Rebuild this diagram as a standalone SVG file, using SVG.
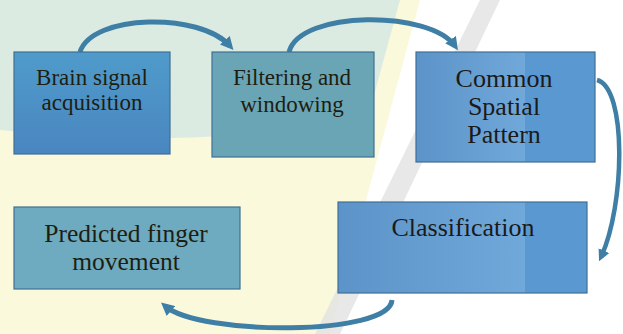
<svg xmlns="http://www.w3.org/2000/svg" width="623" height="334" viewBox="0 0 623 334">
<style>
.box{stroke:#3f6f94;stroke-width:1.2}
.t{font-family:'Liberation Serif',serif;font-size:23px;fill:#1e1e10;text-anchor:middle}
.b{font-size:26px;fill:#1a1a1a}
.c{fill:none;stroke:#3f7fa6;stroke-width:5;stroke-linecap:butt}
</style>
<defs>
<marker id="ah" viewBox="0 0 10 10" refX="6" refY="5" markerWidth="2.6" markerHeight="2.6" orient="auto" markerUnits="strokeWidth">
<path d="M0,0 L10,5 L0,10 z" fill="#3f7fa6"/>
</marker>
<linearGradient id="g1" x1="0" y1="0" x2="0" y2="1"><stop offset="0" stop-color="#4f9bcb"/><stop offset="1" stop-color="#4a86c0"/></linearGradient>
<linearGradient id="g3" x1="0" y1="0" x2="1" y2="0"><stop offset="0" stop-color="#5c94c9"/><stop offset="0.61" stop-color="#70a8da"/><stop offset="0.61" stop-color="#5a98d2"/><stop offset="1" stop-color="#5a98d2"/></linearGradient>
<linearGradient id="g4" x1="0" y1="0" x2="1" y2="0"><stop offset="0" stop-color="#5c94c9"/><stop offset="0.75" stop-color="#70a8da"/><stop offset="0.75" stop-color="#5a98d2"/><stop offset="1" stop-color="#5a98d2"/></linearGradient>
</defs>
<rect width="623" height="334" fill="#fbf9dc"/>
<path d="M0,0 H400 L370,110 C300,130 200,150 0,130 Z" fill="#dcebe2"/>
<path d="M420,0 H623 V334 H380 L330,334 Z" fill="#ffffff"/>
<path d="M480,0 L500,0 L340,334 L315,334 Z" fill="#e2e2e2" opacity="0.8"/>
<g id="connectors">
<path class="c" d="M80,52 C92,14 200,12 230,46" marker-end="url(#ah)"/>
<path class="c" d="M289,52 C300,10 430,10 455,46" marker-end="url(#ah)"/>
<path class="c" style="stroke-width:4.5" d="M597,80 C627,88 625,205 601,257" marker-end="url(#ah)"/>
<path class="c" d="M392,300 C390,336 200,336 165,306" marker-end="url(#ah)"/>
</g>
<g id="n1"><rect class="box" x="14" y="52" width="156" height="102" fill="url(#g1)"/>
<text class="t" x="92" y="85">Brain signal</text><text class="t" x="92" y="110">acquisition</text></g>
<g id="n2"><rect class="box" x="212" y="52" width="162" height="105" fill="#6aa5b6"/>
<text class="t" x="292" y="85">Filtering and</text><text class="t" x="292" y="112">windowing</text></g>
<g id="n3"><rect class="box" x="416" y="52" width="179" height="110" fill="url(#g3)"/>
<text class="t b" x="504" y="87">Common</text><text class="t b" x="504" y="115">Spatial</text><text class="t b" x="504" y="143">Pattern</text></g>
<g id="n4"><rect class="box" x="338" y="202" width="249" height="91" fill="url(#g4)"/>
<text class="t b" x="463" y="236">Classification</text></g>
<g id="n5"><rect class="box" x="14" y="207" width="226" height="82" fill="#6eaac0"/>
<text class="t" style="font-size:25.5px" x="126" y="242">Predicted finger</text><text class="t" style="font-size:25.5px" x="126" y="270">movement</text></g>
</svg>
